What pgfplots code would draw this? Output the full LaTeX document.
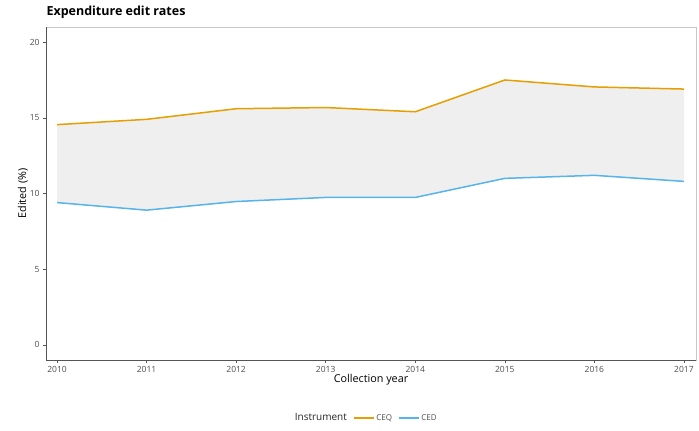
\documentclass[border=0pt]{standalone}
\usepackage{pgfplots}
\pgfplotsset{compat=1.18}
\usepackage{fontspec}
\setmainfont{Open Sans}
\definecolor{ceq}{HTML}{E69F00}
\definecolor{ced}{HTML}{56B4E9}
\definecolor{tickgray}{HTML}{4D4D4D}
\definecolor{ribbon}{HTML}{EFEFEF}
\definecolor{spine}{HTML}{555555}
\definecolor{boxgray}{HTML}{C8C8C8}
\begin{document}
\begin{tikzpicture}
\useasboundingbox (-46pt,-71pt) rectangle (653pt,360pt);
\begin{axis}[
  at={(0pt,0pt)}, anchor=south west,
  scale only axis, width=650pt, height=333pt,
  xmin=2009.877, xmax=2017.134, ymin=-1, ymax=21,
  xtick={2010,...,2017}, ytick={0,5,10,15,20},
  xtick pos=bottom, ytick pos=left,
  x tick label style={/pgf/number format/1000 sep={}},
  /pgf/number format/assume math mode=true,
  tick label style={font=\fontsize{8.5}{9}\selectfont, text=tickgray},
  tick align=outside, major tick length=3pt,
  tick style={spine, line width=0.5pt},
  axis line style={boxgray, line width=0.6pt},
  xlabel={Collection year}, ylabel={Edited (\%)},
  label style={font=\fontsize{10.8}{12}\selectfont},
  xlabel style={yshift=5pt},
  ylabel style={yshift=-5pt},
  title={\bfseries Expenditure edit rates},
  title style={font=\fontsize{12.5}{13}\selectfont, anchor=south west, at={(0,1)}, xshift=-3pt, yshift=-1pt},
  legend style={at={(0.492,-0.174)}, anchor=center, draw=none, font=\fontsize{8}{9}\selectfont, text=tickgray,
    legend columns=-1, /tikz/every even column/.append style={column sep=4pt}},
  legend image code/.code={\draw[#1] (0cm,0cm) -- (0.7cm,0cm);},
  legend cell align=left,
]
\addplot[fill=ribbon, draw=none, forget plot] coordinates {
(2010,14.55) (2011,14.90) (2012,15.60) (2013,15.68) (2014,15.40) (2015,17.50) (2016,17.04) (2017,16.90)
(2017,10.80) (2016,11.20) (2015,11.00) (2014,9.74) (2013,9.74) (2012,9.47) (2011,8.90) (2010,9.40)
} -- cycle;
\addlegendimage{empty legend}
\addlegendentry{\fontsize{10}{11}\selectfont\color{black!85} Instrument}
\addplot[ceq, line width=1.5pt] coordinates {
(2010,14.55) (2011,14.90) (2012,15.60) (2013,15.68) (2014,15.40) (2015,17.50) (2016,17.04) (2017,16.90)};
\addlegendentry{CEQ}
\addplot[ced, line width=1.5pt] coordinates {
(2010,9.40) (2011,8.90) (2012,9.47) (2013,9.74) (2014,9.74) (2015,11.00) (2016,11.20) (2017,10.80)};
\addlegendentry{CED}
\draw[spine, line width=0.8pt] (rel axis cs:0,1) -- (rel axis cs:0,0) -- (rel axis cs:1,0);
\end{axis}
\end{tikzpicture}
\end{document}
